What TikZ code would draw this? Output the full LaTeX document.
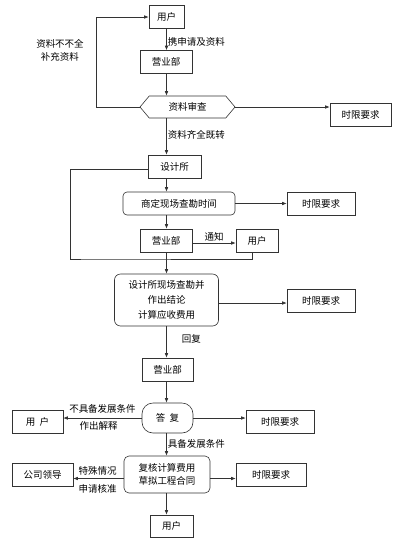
\documentclass[tikz,border=0pt]{standalone}
\usepackage{fontspec}
\setmainfont{Noto Sans CJK SC}
\usepackage{tikz}
\usetikzlibrary{arrows.meta,positioning,shapes.symbols}

\begin{document}
\begin{tikzpicture}[
  x=1pt,
  y=-1pt,
  >={Latex[length=4.5pt,width=3.6pt]},
  every node/.style={font=\fontsize{9.5}{13}\selectfont},
  flow/.style={draw=black!80,line width=0.6pt},
  boxnode/.style={draw=black!80,line width=0.6pt,inner sep=0pt,
    minimum height=23pt},
  roundnode/.style={boxnode,rounded corners=4pt,align=center},
  replynode/.style={boxnode,rounded corners=11pt,minimum height=30pt},
  checknode/.style={draw=black!80,line width=0.6pt,signal,
    signal to=east and west,signal pointer angle=100,inner sep=0pt,
    minimum height=22pt,minimum width=95pt},
  tag/.style={inner sep=1pt}
]
\useasboundingbox (0,0) rectangle (400,550);

% Main axis of the flow.
\coordinate (axis) at (166.5,0);

% Application and document check.
\node[boxnode,minimum width=35pt] (user1) at (166.5,17) {用户};
\node[boxnode,minimum width=52pt] (sales1) at (166,62) {营业部};
\node[checknode] (check) at (187.5,107) {资料审查};
\node[boxnode,minimum width=61pt] (limit1) at (360.5,114.5) {时限要求};

\draw[flow,->] (user1.south -| axis)
  -- node[tag,anchor=west,pos=0.6] {携申请及资料} (sales1.north -| axis);
\draw[flow,->] (sales1.south -| axis) -- (check.north -| axis);
\draw[flow,->] (check.east) -- (check.east -| limit1.west);
\draw[flow,->] (check.west) -- ++(-43,0) |- (user1.west);
\node[tag,align=center] (lackdoc) at (60,50) {资料不不全\\补充资料};

% Design institute arranges the survey.
\node[boxnode,minimum width=53pt] (design) at (174.5,166.5) {设计所};
\node[roundnode,minimum width=112pt] (arrange) at (179,203.5) {商定现场查勘时间};
\node[boxnode,minimum width=68pt] (limit2) at (321,203.5) {时限要求};
\node[boxnode,minimum width=52pt] (sales2) at (166,240.5) {营业部};
\node[boxnode,minimum width=42pt] (user2) at (257,240.5) {用户};

\draw[flow,->] (check.south -| axis)
  -- node[tag,anchor=west,pos=0.45] {资料齐全既转} (design.north -| axis);
\draw[flow,->] (design.south -| axis) -- (arrange.north -| axis);
\draw[flow,->] (arrange.east) -- (limit2.west);
\draw[flow,->] (arrange.south -| axis) -- (sales2.north -| axis);
\draw[flow,->] ([yshift=-2.5pt]sales2.east)
  -- node[tag,above=0pt] {通知} ([yshift=-2.5pt]user2.west);
\draw[flow] ([yshift=-3pt]design.west) -- ++(-77,0) |- (91,259) -| ([xshift=-5pt]user2.south);

% Survey and reply.
\node[roundnode,minimum width=104pt,minimum height=52pt,rounded corners=6pt,
  font=\fontsize{9.5}{15}\selectfont] (survey) at (166.5,300)
  {设计所现场查勘并\\作出结论\\计算应收费用};
\node[boxnode,minimum width=68pt] (limit3) at (321,300.5) {时限要求};
\node[boxnode,minimum width=51pt] (sales3) at (167.5,369.5) {营业部};

\draw[flow,->] (sales2.south -| axis) -- (survey.north -| axis);
\draw[flow,->] ([yshift=-3pt]survey.east) -- ([yshift=-3pt]survey.east -| limit3.west);
\draw[flow,->] (survey.south -| axis)
  -- node[tag,anchor=west,xshift=14pt,pos=0.4] {回复} (sales3.north -| axis);

% Answer to the user.
\node[replynode,minimum width=51pt] (reply) at (167.5,418) {答\ \ 复};
\node[boxnode,minimum width=51pt] (user3) at (37.5,421.5) {用\ \ 户};
\node[boxnode,minimum width=68pt] (limit4) at (280,421.5) {时限要求};

\draw[flow,->] (sales3.south -| axis) -- (reply.north -| axis);
\draw[flow,->] (reply.west) -- (reply.west -| user3.east)
  node[tag,midway,above=3pt] {不具备发展条件}
  node[tag,midway,below=2pt,xshift=-4pt] {作出解释};
\draw[flow,->] (reply.east) -- (reply.east -| limit4.west);

% Contract drafting.
\node[roundnode,minimum width=86pt,minimum height=37pt,rounded corners=5pt]
  (review) at (167,474.5) {复核计算费用\\草拟工程合同};
\node[boxnode,minimum width=61pt] (leader) at (42.5,474.5) {公司领导};
\node[boxnode,minimum width=70pt] (limit5) at (271,474.5) {时限要求};
\node[boxnode,minimum width=43pt,minimum height=22pt] (user4) at (171.5,526) {用户};

\draw[flow,->] (reply.south -| axis)
  -- node[tag,anchor=west,pos=0.45] {具备发展条件} (review.north -| axis);
\draw[flow,->] ([yshift=-4pt]review.west) -- ([yshift=-4pt]review.west -| leader.east)
  node[tag,midway,above=2pt,xshift=-1pt] {特殊情况}
  node[tag,midway,below=5pt,xshift=-1pt] {申请核准};
\draw[flow,->] ([yshift=-4pt]review.east) -- ([yshift=-4pt]review.east -| limit5.west);
\draw[flow,->] (review.south -| axis) -- (user4.north -| axis);

\end{tikzpicture}
\end{document}
